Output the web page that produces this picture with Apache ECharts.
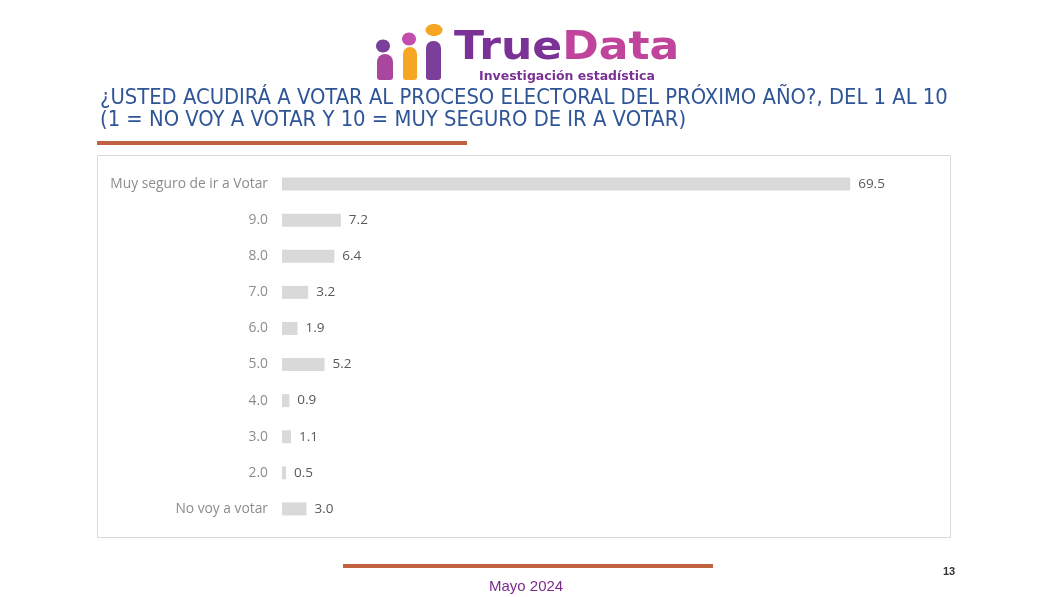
<!DOCTYPE html>
<html>
<head>
<meta charset="utf-8">
<script src="https://cdn.jsdelivr.net/npm/echarts@6/dist/echarts.min.js"></script>
<style>
  html, body { margin: 0; padding: 0; background: #fff; }
  #chart { width: 1047px; height: 597px; }
</style>
</head>
<body>
<div id="chart"></div>
<script>
// respuestas de la escala 1-10
var categories = ["Muy seguro de ir a Votar", "9.0", "8.0", "7.0", "6.0", "5.0", "4.0", "3.0", "2.0", "No voy a votar"];
var values = [69.5, 7.2, 6.4, 3.2, 1.9, 5.2, 0.9, 1.1, 0.5, 3.0];

var titleLines = [
  "¿USTED ACUDIRÁ A VOTAR AL PROCESO ELECTORAL DEL PRÓXIMO AÑO?, DEL 1 AL 10",
  "(1 = NO VOY A VOTAR Y 10 = MUY SEGURO DE IR A VOTAR)"
];

var myChart = echarts.init(document.getElementById("chart"));

var titleFont = "21.8px 'Liberation Sans Narrow', 'DejaVu Sans Condensed', sans-serif";
var logoFont = "bold 39px 'DejaVu Sans'";

var option = {
  backgroundColor: "#fff",
  animation: false,
  grid: { left: 282, right: 111, top: 166, bottom: 70, containLabel: false },
  xAxis: {
    type: "value",
    min: 0,
    max: 80,
    show: false
  },
  yAxis: {
    type: "category",
    inverse: true,
    data: categories,
    axisLine: { show: false },
    axisTick: { show: false },
    axisLabel: {
      margin: 14,
      color: "#8c8c8c",
      fontSize: 13.8,
      fontFamily: "Open Sans"
    }
  },
  series: [
    {
      type: "bar",
      data: values,
      barWidth: 13,
      itemStyle: { color: "#d9d9d9" },
      label: {
        show: true,
        position: "right",
        distance: 8,
        color: "#595959",
        fontSize: 13.5,
        fontFamily: "Open Sans",
        formatter: function (p) { return p.value.toFixed(1); }
      }
    }
  ],
  graphic: [
    // marco del gráfico
    { type: "rect", shape: { x: 97.5, y: 155.5, width: 853, height: 382 }, style: { fill: null, stroke: "#d9d9d9", lineWidth: 1 }, z: -1 },
    // líneas naranjas
    { type: "rect", shape: { x: 97, y: 141, width: 370, height: 4 }, style: { fill: "#c0623f" } },
    { type: "rect", shape: { x: 343, y: 564, width: 370, height: 4 }, style: { fill: "#c0623f" } },
    // logo
    { type: "ellipse", shape: { cx: 383, cy: 46, rx: 7, ry: 6.5 }, style: { fill: "#7b3f9a" } },
    { type: "rect", shape: { x: 377, y: 54, width: 16, height: 26, r: [8, 8, 3, 3] }, style: { fill: "#a9479e" } },
    { type: "ellipse", shape: { cx: 409, cy: 39, rx: 7, ry: 6.5 }, style: { fill: "#c24fae" } },
    { type: "rect", shape: { x: 403, y: 47, width: 14, height: 33, r: [7, 7, 3, 3] }, style: { fill: "#f5a623" } },
    { type: "ellipse", shape: { cx: 434, cy: 30, rx: 8.5, ry: 6 }, style: { fill: "#f5a623" } },
    { type: "rect", shape: { x: 426, y: 41, width: 15, height: 39, r: [7, 7, 3, 3] }, style: { fill: "#7b3f9a" } },
    {
      type: "text", x: 454, y: 29, scaleX: 1.13,
      style: {
        text: "{a|True}{b|Data}",
        font: logoFont,
        verticalAlign: "top",
        rich: {
          a: { fill: "#7b3296", font: logoFont },
          b: { fill: "#c0449c", font: logoFont }
        }
      }
    },
    { type: "text", left: 479, top: 70, style: { text: "Investigación estadística", fill: "#7b3296", font: "bold 12.5px 'DejaVu Sans'" } },
    // título
    { type: "text", left: 100, top: 87, style: { text: titleLines[0], fill: "#2f5597", font: titleFont } },
    { type: "text", left: 100, top: 109, style: { text: titleLines[1], fill: "#2f5597", font: titleFont } },
    // pie de página
    { type: "text", left: 489, top: 579, style: { text: "Mayo 2024", fill: "#7b2a8c", font: "15px 'Liberation Sans'" } },
    { type: "text", left: 943, top: 566, style: { text: "13", fill: "#333", font: "bold 11px 'Liberation Sans'" } }
  ]
};

myChart.setOption(option);
</script>
</body>
</html>
